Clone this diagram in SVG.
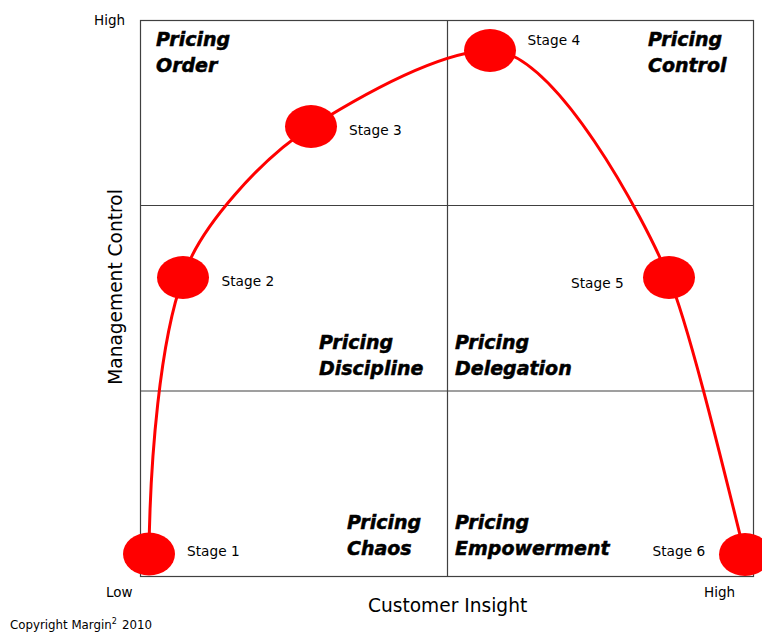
<svg xmlns="http://www.w3.org/2000/svg" width="762" height="633" viewBox="0 0 762 633">
<style>
.grid{fill:none;stroke:#404040;stroke-width:1.2}
.curve{fill:none;stroke:#FF0000;stroke-width:3}
.dot{fill:#FF0000}
.st{font-family:"DejaVu Sans",Verdana,sans-serif;font-size:13.7px;fill:#000}
.q{font-family:"DejaVu Sans",Verdana,sans-serif;font-size:19px;font-weight:bold;font-style:italic;fill:#000;stroke:#000;stroke-width:0.5}
.ax{font-family:"DejaVu Sans",Verdana,sans-serif;font-size:18.6px;fill:#000}
.lh{font-family:"DejaVu Sans",Verdana,sans-serif;font-size:13.5px;fill:#000}
.cp{font-family:"DejaVu Sans",Verdana,sans-serif;font-size:11.8px;fill:#000}
</style>
<rect width="762" height="633" fill="#fff"/>
<g id="grid">
<rect class="grid" x="140.5" y="20.5" width="613" height="556"/>
<line class="grid" x1="447.5" y1="20.5" x2="447.5" y2="576.5"/>
<line class="grid" x1="140.5" y1="205.5" x2="753.5" y2="205.5"/>
<line class="grid" x1="140.5" y1="391" x2="753.5" y2="391"/>
</g>
<g id="quadrant-order"><text class="q" x="156" y="46">Pricing</text><text class="q" x="156" y="72">Order</text></g>
<g id="quadrant-control"><text class="q" x="648" y="46">Pricing</text><text class="q" x="648" y="72">Control</text></g>
<g id="quadrant-discipline"><text class="q" x="319" y="349">Pricing</text><text class="q" x="319" y="375">Discipline</text></g>
<g id="quadrant-delegation"><text class="q" x="455" y="349">Pricing</text><text class="q" x="455" y="375">Delegation</text></g>
<g id="quadrant-chaos"><text class="q" x="347" y="529">Pricing</text><text class="q" x="347" y="555">Chaos</text></g>
<g id="quadrant-empowerment"><text class="q" x="455" y="529">Pricing</text><text class="q" x="455" y="555">Empowerment</text></g>
<g id="connectors">
<path class="curve" d="M149,553 C150,460 160,340 183,278 C198,228 263,157 311,127 C370,90 440,52 490,50 C555,50 644,218 669,278 C690,328 727.5,485 745,555"/>
</g>
<g id="stage1"><ellipse class="dot" cx="149" cy="554" rx="26" ry="21.5"/><text class="st" x="187" y="556">Stage 1</text></g>
<g id="stage2"><ellipse class="dot" cx="183" cy="277.5" rx="26" ry="21.5"/><text class="st" x="221.5" y="286">Stage 2</text></g>
<g id="stage3"><ellipse class="dot" cx="311" cy="126.5" rx="26" ry="21.5"/><text class="st" x="349" y="135">Stage 3</text></g>
<g id="stage4"><ellipse class="dot" cx="490" cy="50.5" rx="26" ry="21.5"/><text class="st" x="527.5" y="44.5">Stage 4</text></g>
<g id="stage5"><ellipse class="dot" cx="669" cy="277.5" rx="26" ry="21.5"/><text class="st" x="571" y="288">Stage 5</text></g>
<g id="stage6"><ellipse class="dot" cx="745" cy="554.5" rx="26" ry="21.5"/><text class="st" x="652.5" y="556">Stage 6</text></g>
<g id="axes">
<text class="lh" x="94" y="25">High</text>
<text class="lh" x="106" y="597">Low</text>
<text class="lh" x="704" y="597">High</text>
<text class="ax" x="368" y="612">Customer Insight</text>
<text class="ax" transform="translate(122,287) rotate(-90)" text-anchor="middle" x="0" y="0">Management Control</text>
<text class="cp" x="10" y="629">Copyright Margin<tspan font-size="8px" dy="-5">2</tspan><tspan x="122" dy="5">2010</tspan></text>
</g>
</svg>
